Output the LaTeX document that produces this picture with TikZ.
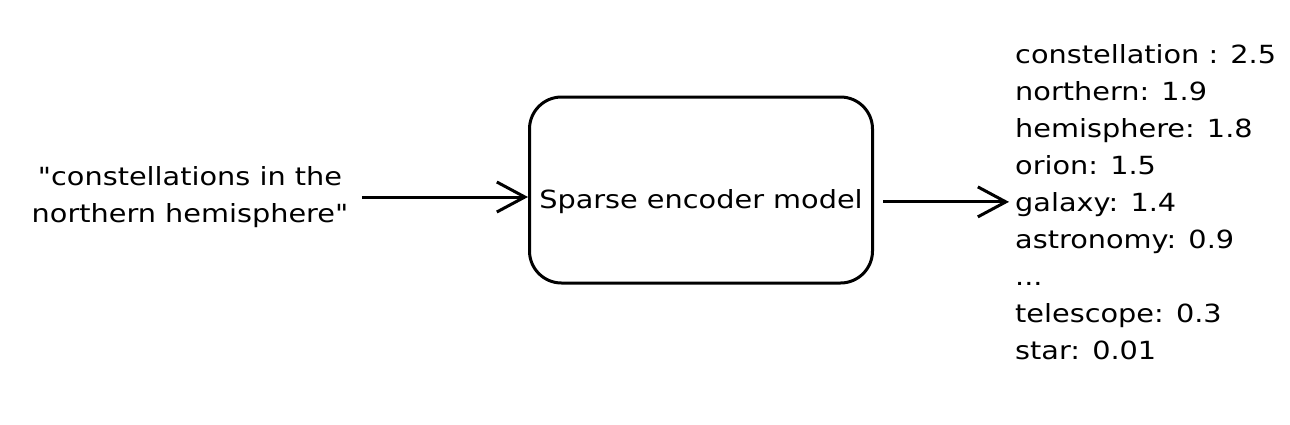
\documentclass[tikz,border=0pt]{standalone}
\usepackage{fontspec}
\setmainfont{DejaVu Sans}[FakeStretch=1.15,Ligatures=TeXOff]
\usetikzlibrary{arrows.meta}

\begin{document}
\begin{tikzpicture}[x=1pt,y=-1pt,
    every node/.style={font=\fontsize{25}{37}\selectfont},
    model/.style={draw,line width=3pt,rounded corners=32pt,
        minimum width=343pt,minimum height=186pt,text height=36pt,text depth=0pt},
    flow/.style={line width=3pt,-{Straight Barb[length=28pt,width=30pt]}}]
    \useasboundingbox (0,0) rectangle (1290,424);

    % Query text
    \node[align=center] (query) at (190,197)
        {"constellations in the\\northern hemisphere"};

    % Encoder model
    \node[model] (encoder) at (701,190) {Sparse encoder model};

    % Term weights
    \node[align=left,anchor=north west,inner sep=0pt] (weights) at (1015,44)
        {constellation : 2.5\\northern: 1.9\\hemisphere: 1.8\\orion: 1.5\\
         galaxy: 1.4\\astronomy: 0.9\\...\\telescope: 0.3\\star: 0.01};

    % Arrows
    \draw[flow] ([xshift=10pt]query.east) -- (query.east -| encoder.west);
    \draw[flow] ([xshift=9pt]encoder.east |- weights.west) -- ([xshift=-6pt]weights.west);
\end{tikzpicture}
\end{document}
